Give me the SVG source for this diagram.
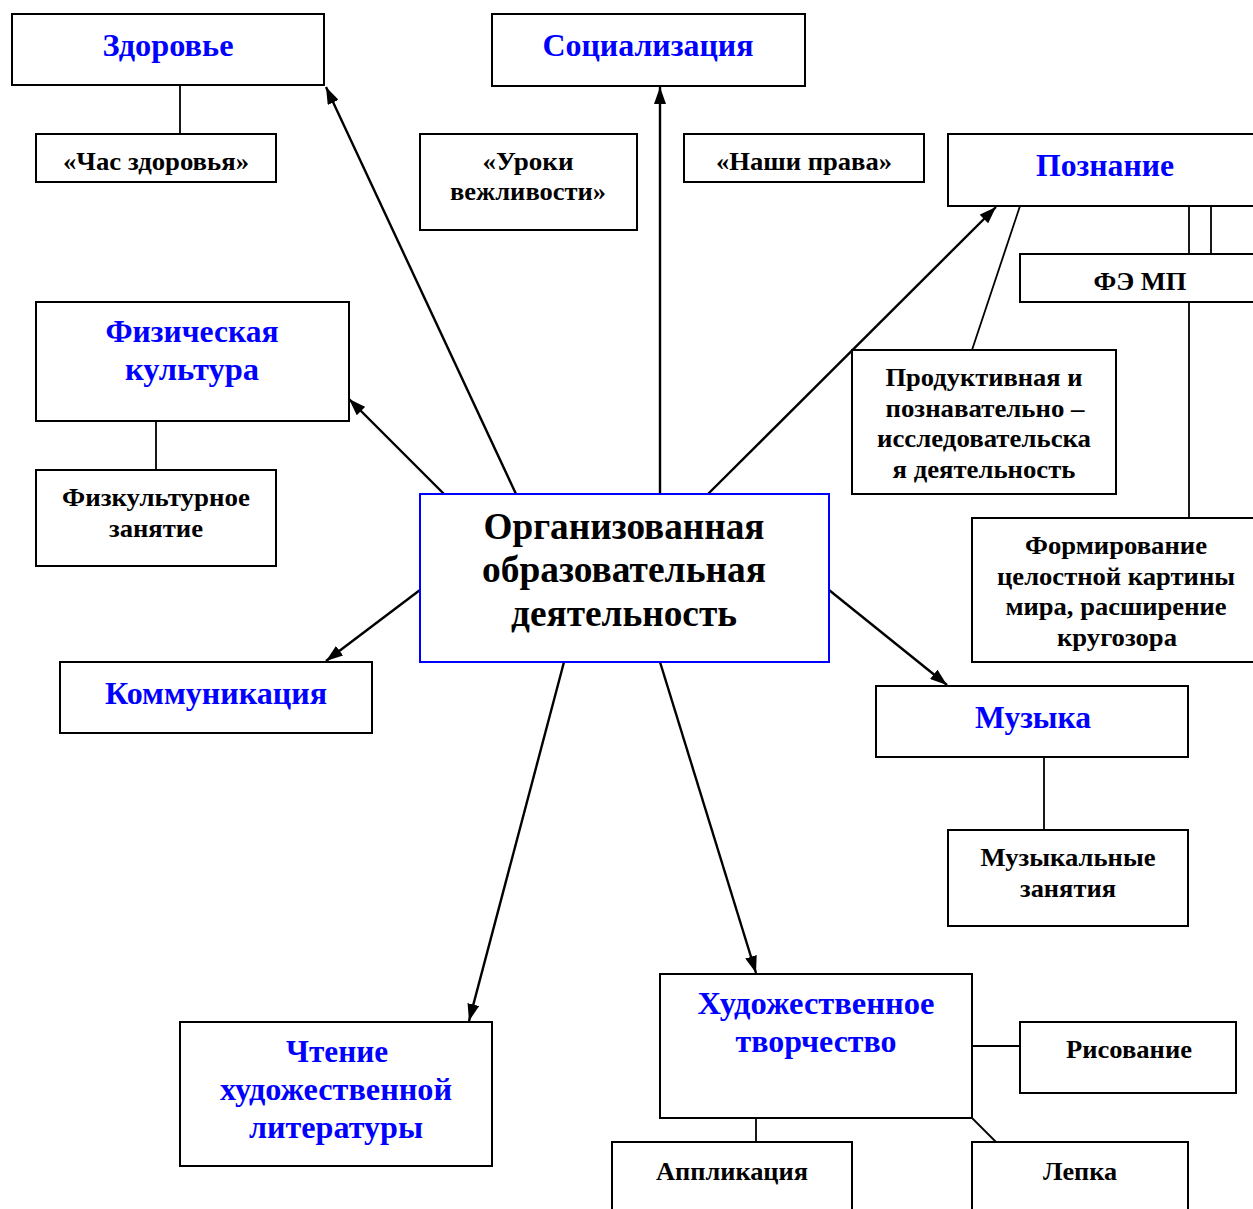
<svg xmlns="http://www.w3.org/2000/svg" width="1253" height="1209" viewBox="0 0 1253 1209">
<defs>
<style>
.box{fill:#fff;stroke:#000;stroke-width:2}
.cbox{fill:#fff;stroke:#0000ff;stroke-width:2}
.t{font-family:"Liberation Serif","Times New Roman",serif;font-weight:bold;text-anchor:middle}
.h{fill:#0000ff;font-size:32px}
.s{fill:#000;font-size:25px}
.c{fill:#000;font-size:37px}
.ln{stroke:#000;stroke-width:1.8;fill:none}
.ar{stroke:#000;stroke-width:2.4;fill:none;marker-end:url(#ah)}
</style>
<marker id="ah" viewBox="0 0 10 10" refX="10" refY="5" markerWidth="17" markerHeight="12" markerUnits="userSpaceOnUse" orient="auto" preserveAspectRatio="none">
<path d="M0,0 L10,5 L0,10 z" fill="#000"/>
</marker>
</defs>
<rect width="1253" height="1209" fill="#fff"/>

<g id="connectors">
<line class="ln" x1="180" y1="85" x2="180" y2="134"/>
<line class="ln" x1="156" y1="421" x2="156" y2="470"/>
<line class="ln" x1="1189" y1="206" x2="1189" y2="254"/>
<line class="ln" x1="1211" y1="206" x2="1211" y2="254"/>
<line class="ln" x1="1189" y1="302" x2="1189" y2="518"/>
<line class="ln" x1="1020" y1="206" x2="972" y2="350"/>
<line class="ln" x1="1044" y1="757" x2="1044" y2="830"/>
<line class="ln" x1="972" y1="1046" x2="1020" y2="1046"/>
<line class="ln" x1="756" y1="1118" x2="756" y2="1142"/>
<line class="ln" x1="972" y1="1118" x2="996" y2="1142"/>
<line class="ar" x1="516" y1="494" x2="326" y2="87"/>
<line class="ar" x1="660" y1="494" x2="660" y2="87"/>
<line class="ar" x1="708" y1="494" x2="996" y2="207"/>
<line class="ar" x1="444" y1="494" x2="349" y2="399"/>
<line class="ar" x1="420" y1="590" x2="326" y2="661"/>
<line class="ar" x1="829" y1="590" x2="947" y2="685"/>
<line class="ar" x1="564" y1="662" x2="469" y2="1021"/>
<line class="ar" x1="660" y1="662" x2="756" y2="973"/>
</g>

<g id="n-zdorovie"><rect class="box" x="12" y="14" width="312" height="71"/><text class="t h" x="168" y="56" textLength="131" lengthAdjust="spacingAndGlyphs">Здоровье</text></g>
<g id="n-chas"><rect class="box" x="36" y="134" width="240" height="48"/><text class="t s" x="156" y="170" textLength="186" lengthAdjust="spacingAndGlyphs">«Час здоровья»</text></g>
<g id="n-social"><rect class="box" x="492" y="14" width="313" height="72"/><text class="t h" x="648" y="56" textLength="211" lengthAdjust="spacingAndGlyphs">Социализация</text></g>
<g id="n-uroki"><rect class="box" x="420" y="134" width="217" height="96"/><text class="t s" x="528" y="170" textLength="91" lengthAdjust="spacingAndGlyphs">«Уроки</text><text class="t s" x="528" y="200" textLength="156" lengthAdjust="spacingAndGlyphs">вежливости»</text></g>
<g id="n-prava"><rect class="box" x="684" y="134" width="240" height="48"/><text class="t s" x="804" y="170" textLength="176" lengthAdjust="spacingAndGlyphs">«Наши права»</text></g>
<g id="n-poznanie"><rect class="box" x="948" y="134" width="310" height="72"/><text class="t h" x="1105" y="176" textLength="138" lengthAdjust="spacingAndGlyphs">Познание</text></g>
<g id="n-femp"><rect class="box" x="1020" y="254" width="240" height="48"/><text class="t s" x="1140" y="290" textLength="93" lengthAdjust="spacingAndGlyphs">ФЭ МП</text></g>
<g id="n-prod"><rect class="box" x="852" y="350" width="264" height="144"/><text class="t s" x="984" y="386" textLength="197" lengthAdjust="spacingAndGlyphs">Продуктивная и</text><text class="t s" x="985" y="417" textLength="199" lengthAdjust="spacingAndGlyphs">познавательно –</text><text class="t s" x="984" y="447" textLength="214" lengthAdjust="spacingAndGlyphs">исследовательска</text><text class="t s" x="984" y="478" textLength="183" lengthAdjust="spacingAndGlyphs">я деятельность</text></g>
<g id="n-form"><rect class="box" x="972" y="518" width="286" height="144"/><text class="t s" x="1116" y="554" textLength="182" lengthAdjust="spacingAndGlyphs">Формирование</text><text class="t s" x="1116" y="585" textLength="238" lengthAdjust="spacingAndGlyphs">целостной картины</text><text class="t s" x="1116" y="615" textLength="221" lengthAdjust="spacingAndGlyphs">мира, расширение</text><text class="t s" x="1117" y="646" textLength="120" lengthAdjust="spacingAndGlyphs">кругозора</text></g>
<g id="n-fizkult"><rect class="box" x="36" y="302" width="313" height="119"/><text class="t h" x="192" y="342" textLength="173" lengthAdjust="spacingAndGlyphs">Физическая</text><text class="t h" x="192" y="380" textLength="134" lengthAdjust="spacingAndGlyphs">культура</text></g>
<g id="n-zanyatie"><rect class="box" x="36" y="470" width="240" height="96"/><text class="t s" x="156" y="506" textLength="188" lengthAdjust="spacingAndGlyphs">Физкультурное</text><text class="t s" x="156" y="537" textLength="94" lengthAdjust="spacingAndGlyphs">занятие</text></g>
<g id="n-center"><rect class="cbox" x="420" y="494" width="409" height="168"/><text class="t c" x="624" y="539" textLength="281" lengthAdjust="spacingAndGlyphs">Организованная</text><text class="t c" x="624" y="582" textLength="284" lengthAdjust="spacingAndGlyphs">образовательная</text><text class="t c" x="624" y="626" textLength="226" lengthAdjust="spacingAndGlyphs">деятельность</text></g>
<g id="n-komm"><rect class="box" x="60" y="662" width="312" height="71"/><text class="t h" x="216" y="704" textLength="222" lengthAdjust="spacingAndGlyphs">Коммуникация</text></g>
<g id="n-muzyka"><rect class="box" x="876" y="686" width="312" height="71"/><text class="t h" x="1033" y="728" textLength="116" lengthAdjust="spacingAndGlyphs">Музыка</text></g>
<g id="n-muzzan"><rect class="box" x="948" y="830" width="240" height="96"/><text class="t s" x="1068" y="866" textLength="175" lengthAdjust="spacingAndGlyphs">Музыкальные</text><text class="t s" x="1068" y="897" textLength="96" lengthAdjust="spacingAndGlyphs">занятия</text></g>
<g id="n-hud"><rect class="box" x="660" y="974" width="312" height="144"/><text class="t h" x="816" y="1014" textLength="237" lengthAdjust="spacingAndGlyphs">Художественное</text><text class="t h" x="816" y="1052" textLength="161" lengthAdjust="spacingAndGlyphs">творчество</text></g>
<g id="n-ris"><rect class="box" x="1020" y="1022" width="216" height="71"/><text class="t s" x="1129" y="1058" textLength="126" lengthAdjust="spacingAndGlyphs">Рисование</text></g>
<g id="n-appl"><rect class="box" x="612" y="1142" width="240" height="80"/><text class="t s" x="732" y="1180" textLength="152" lengthAdjust="spacingAndGlyphs">Аппликация</text></g>
<g id="n-lepka"><rect class="box" x="972" y="1142" width="216" height="80"/><text class="t s" x="1080" y="1180" textLength="74" lengthAdjust="spacingAndGlyphs">Лепка</text></g>
<g id="n-chtenie"><rect class="box" x="180" y="1022" width="312" height="144"/><text class="t h" x="337" y="1062" textLength="102" lengthAdjust="spacingAndGlyphs">Чтение</text><text class="t h" x="336" y="1100" textLength="232" lengthAdjust="spacingAndGlyphs">художественной</text><text class="t h" x="336" y="1138" textLength="174" lengthAdjust="spacingAndGlyphs">литературы</text></g>
</svg>
